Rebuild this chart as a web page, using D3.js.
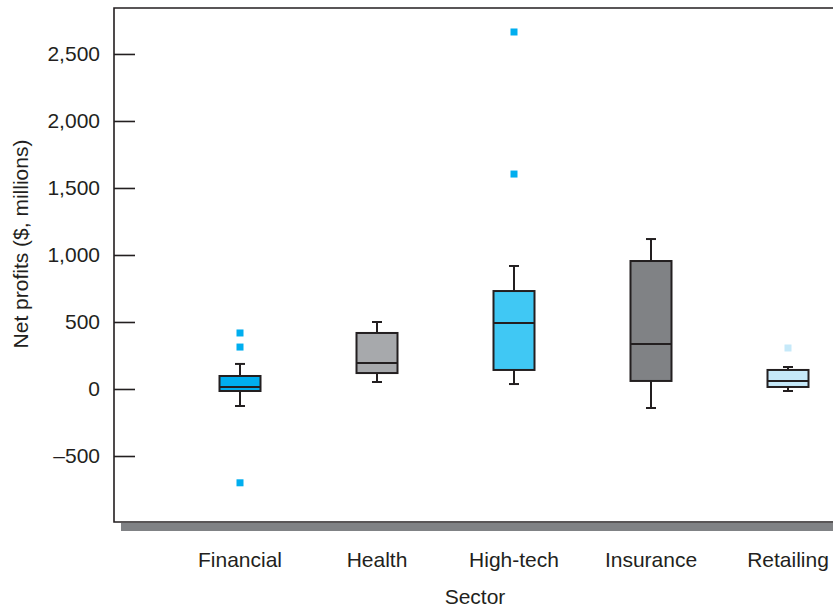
<!DOCTYPE html>
<html>
<head>
<meta charset="utf-8">
<script src="https://cdn.jsdelivr.net/npm/d3@7"></script>
<style>
  html, body { margin: 0; padding: 0; background: #fff; }
  svg { display: block; }
  text { font-family: "Liberation Sans", Arial, Helvetica, sans-serif; fill: #231f20; }
</style>
</head>
<body>
<svg id="chart" width="833" height="608"></svg>
<script>
const sectors   = ["Financial", "Health", "High-tech", "Insurance", "Retailing"];
const whiskerLo = [-127, 52, 37, -142, -15];
const q1        = [-15, 119, 142, 60, 15];
const medians   = [15, 194, 493, 336, 60];
const q3        = [97, 418, 731, 955, 142];
const whiskerHi = [187, 500, 918, 1119, 164];
const outliers  = [[418, 313, -700], [], [2664, 1604], [], [306]];
const colors    = ["#00aeef", "#a7a9ac", "#40c8f4", "#808285", "#c6e9f9"];
const outColors = ["#00aeef", "#00aeef", "#00aeef", "#00aeef", "#c6e9f9"];
const yTicks    = [-500, 0, 500, 1000, 1500, 2000, 2500];
const yLabel    = "Net profits ($, millions)";
const xLabel    = "Sector";

const W = 833, H = 608;
const mLeft = 114, mTop = 8, mBottom = 522;
const svg = d3.select("#chart");

const y = d3.scaleLinear().domain([-992.5, 2843]).range([mBottom, mTop]);
const x = d3.scalePoint().domain(sectors).range([240, 788]);

const dark = "#231f20";
const boxW = 41, capW = 8, dot = 7, fs = 21;

// shadow under the frame
svg.append("rect").attr("x", 121).attr("y", mBottom + 1).attr("width", W - 121).attr("height", 8).attr("fill", "#808285");

// frame
svg.append("path")
  .attr("d", `M${W + 5},${mTop}H${mLeft}V${mBottom}H${W + 5}`)
  .attr("fill", "#fff").attr("stroke", dark).attr("stroke-width", 1.6);

// y axis ticks (inward) and labels
const fmt = v => (v < 0 ? "\u2013" : "") + d3.format(",")(Math.abs(v));
const yAxis = d3.axisRight(y).tickValues(yTicks).tickSize(21).tickFormat("");
const ya = svg.append("g").attr("transform", `translate(${mLeft},0)`).call(yAxis);
ya.select(".domain").remove();
ya.selectAll(".tick line").attr("stroke", dark).attr("stroke-width", 1.6);

svg.append("g").selectAll("text").data(yTicks).join("text")
  .attr("x", 100).attr("y", d => y(d)).attr("dy", "0.35em")
  .attr("text-anchor", "end").attr("font-size", fs).text(fmt);

// x category labels
svg.append("g").selectAll("text").data(sectors).join("text")
  .attr("x", d => x(d)).attr("y", 567).attr("text-anchor", "middle")
  .attr("font-size", fs).text(d => d);

// axis titles
svg.append("text").attr("x", 475).attr("y", 604).attr("text-anchor", "middle")
  .attr("font-size", fs).text(xLabel);
svg.append("text").attr("transform", `translate(28,244) rotate(-90)`)
  .attr("text-anchor", "middle").attr("font-size", fs).text(yLabel);

// boxes
const data = sectors.map((s, i) => ({ s, lo: whiskerLo[i], q1: q1[i], med: medians[i], q3: q3[i], hi: whiskerHi[i], out: outliers[i], c: colors[i], oc: outColors[i] }));
const g = svg.append("g").selectAll("g").data(data).join("g");

g.append("line").attr("x1", d => x(d.s)).attr("x2", d => x(d.s))
  .attr("y1", d => y(d.hi)).attr("y2", d => y(d.q3)).attr("stroke", dark).attr("stroke-width", 2);
g.append("line").attr("x1", d => x(d.s)).attr("x2", d => x(d.s))
  .attr("y1", d => y(d.q1)).attr("y2", d => y(d.lo)).attr("stroke", dark).attr("stroke-width", 2);
g.append("line").attr("x1", d => x(d.s) - capW / 2 - 1).attr("x2", d => x(d.s) + capW / 2 + 1)
  .attr("y1", d => y(d.hi)).attr("y2", d => y(d.hi)).attr("stroke", dark).attr("stroke-width", 2);
g.append("line").attr("x1", d => x(d.s) - capW / 2 - 1).attr("x2", d => x(d.s) + capW / 2 + 1)
  .attr("y1", d => y(d.lo)).attr("y2", d => y(d.lo)).attr("stroke", dark).attr("stroke-width", 2);
g.append("rect").attr("x", d => x(d.s) - boxW / 2).attr("width", boxW)
  .attr("y", d => y(d.q3)).attr("height", d => y(d.q1) - y(d.q3))
  .attr("fill", d => d.c).attr("stroke", dark).attr("stroke-width", 2);
g.append("line").attr("x1", d => x(d.s) - boxW / 2).attr("x2", d => x(d.s) + boxW / 2)
  .attr("y1", d => y(d.med)).attr("y2", d => y(d.med)).attr("stroke", dark).attr("stroke-width", 2);

g.selectAll("rect.out").data(d => d.out.map(v => ({ v, s: d.s, oc: d.oc }))).join("rect")
  .attr("class", "out")
  .attr("x", d => x(d.s) - dot / 2).attr("y", d => y(d.v) - dot / 2)
  .attr("width", dot).attr("height", dot).attr("fill", d => d.oc);
</script>
</body>
</html>
